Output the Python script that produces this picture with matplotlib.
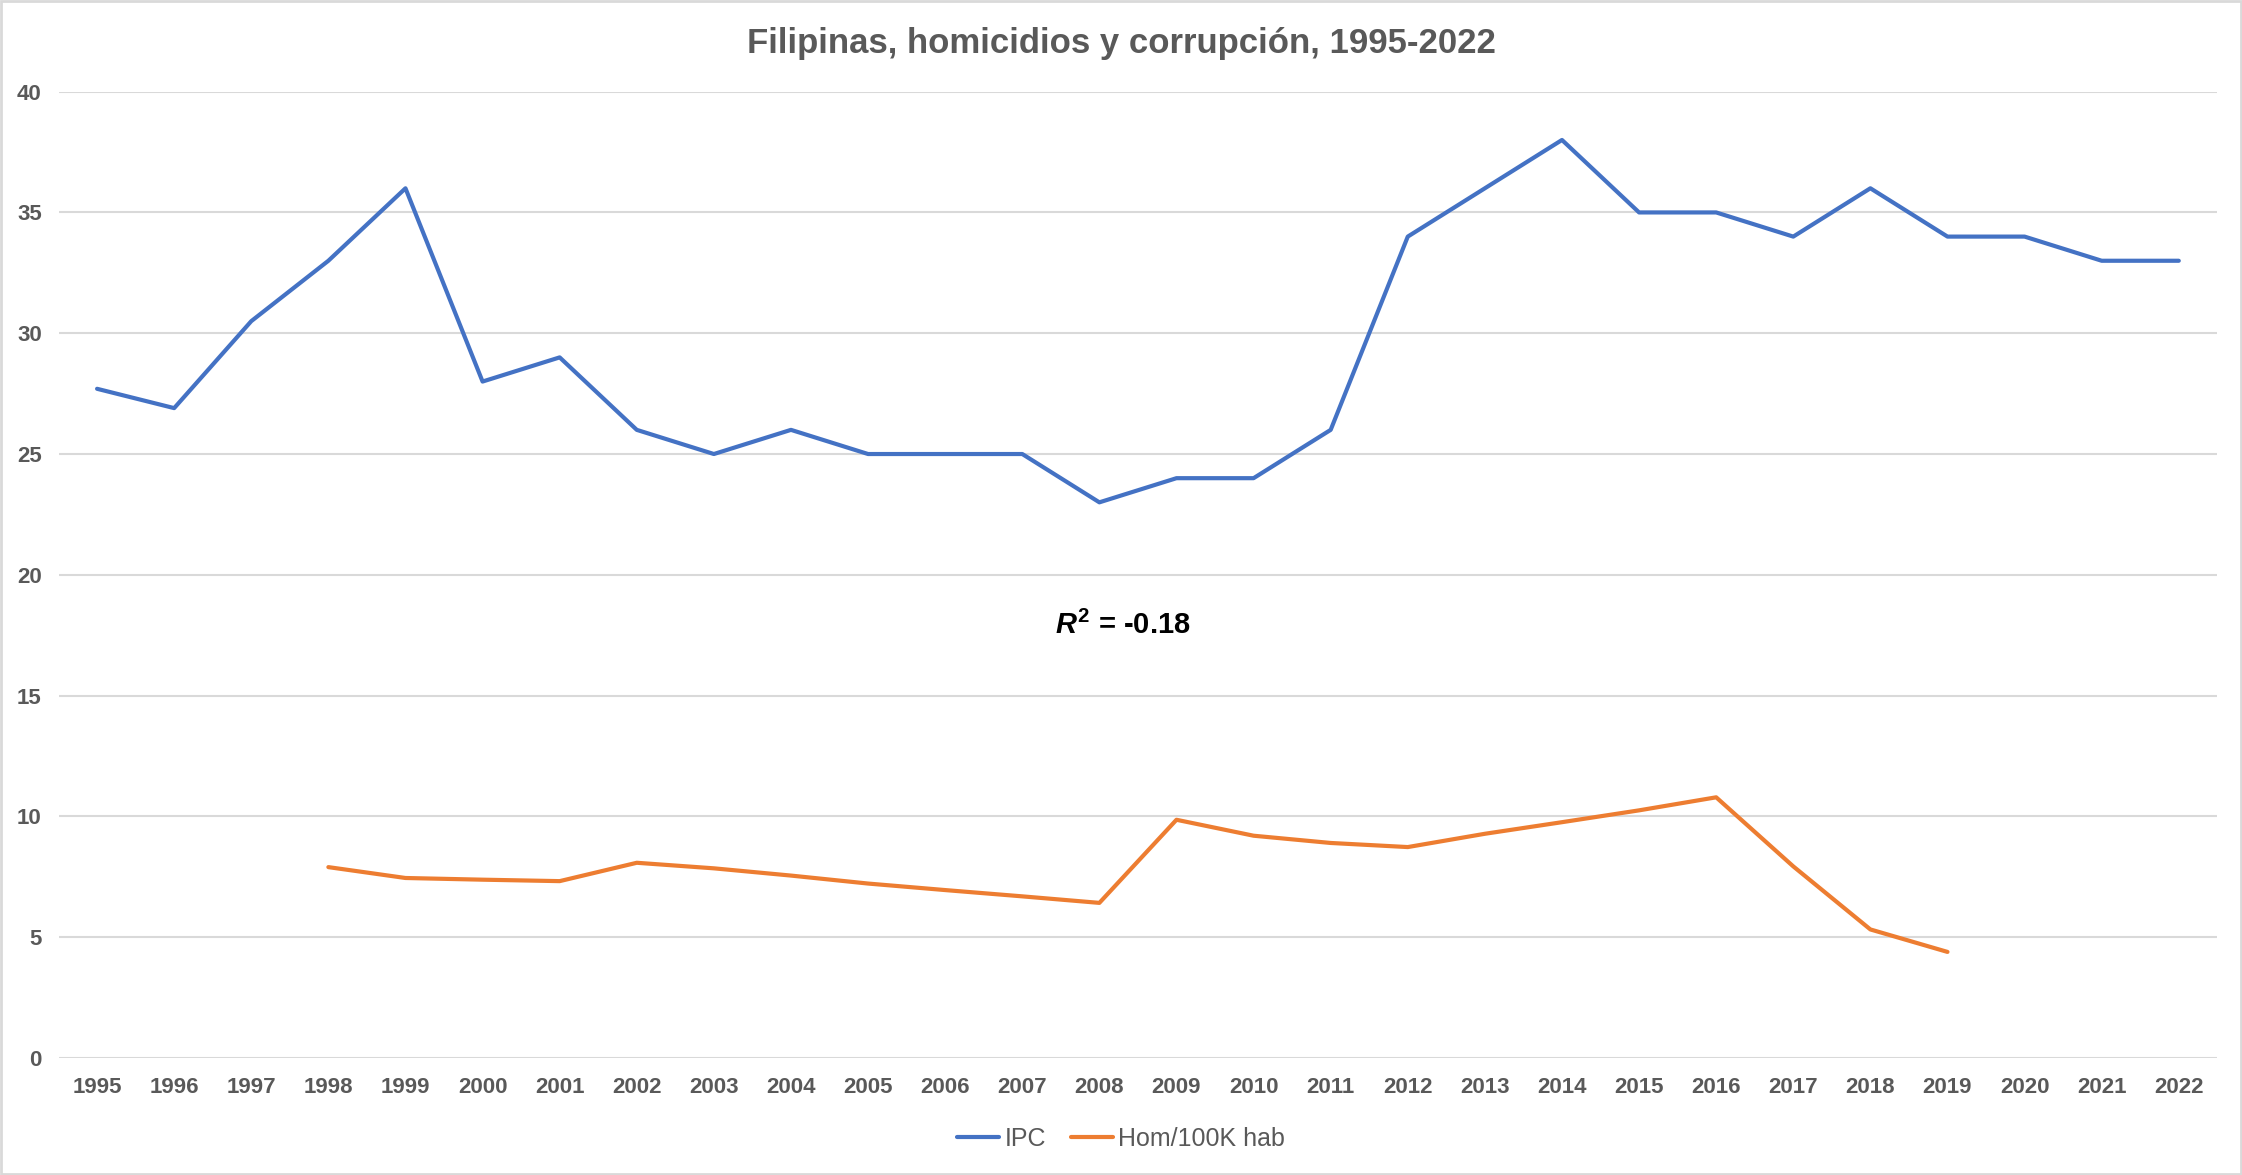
import numpy as np
import matplotlib.pyplot as plt
from matplotlib.patches import Rectangle

plt.rcParams['font.family'] = ['Liberation Sans', 'DejaVu Sans']
plt.rcParams['mathtext.fontset'] = 'custom'
plt.rcParams['mathtext.it'] = 'Liberation Sans:italic:bold'
plt.rcParams['mathtext.rm'] = 'Liberation Sans:bold'

years = list(range(1995, 2023))
ipc = [27.7, 26.9, 30.5, 33, 36, 28, 29, 26, 25, 26, 25, 25, 25, 23,
       24, 24, 26, 34, 36, 38, 35, 35, 34, 36, 34, 34, 33, 33]
hom_years = list(range(1998, 2020))
hom = [7.9, 7.45, 7.38, 7.32, 8.08, 7.85, 7.55, 7.22, 6.95, 6.69, 6.42,
       9.86, 9.2, 8.9, 8.73, 9.28, 9.76, 10.25, 10.79, 7.93, 5.32, 4.39]
r2_text = r'$R^2$ = -0.18'

gray = '#595959'
fig = plt.figure(figsize=(22.42, 11.75), dpi=100)
ax = fig.add_axes([0.0261, 0.0996, 0.9629, 0.8224])

x = np.arange(len(years))
xh = np.array([years.index(y) for y in hom_years])
ax.plot(x, ipc, color='#4472C4', lw=3, label='IPC', solid_capstyle='round')
ax.plot(xh, hom, color='#ED7D31', lw=3, label='Hom/100K hab', solid_capstyle='round')

ax.set_xlim(-0.5, len(years) - 0.5)
ax.set_ylim(0, 40)
ax.set_yticks(range(0, 41, 5))
ax.set_xticks(x)
ax.set_xticklabels([str(y) for y in years])
ax.grid(axis='y', color='#D9D9D9', lw=1.5)
ax.set_axisbelow(True)
for s in ax.spines.values():
    s.set_visible(False)
ax.tick_params(length=0, labelsize=16, labelcolor=gray)
ax.tick_params(axis='y', pad=12)
ax.tick_params(axis='x', pad=14)
for lab in ax.get_xticklabels() + ax.get_yticklabels():
    lab.set_fontweight('bold')

ax.text(13.3, 17.9, r2_text, fontsize=21, fontweight='bold', color='black',
        ha='center', va='center')

fig.text(0.5, 0.963, 'Filipinas, homicidios y corrupción, 1995-2022', ha='center',
         va='center', fontsize=25, fontweight='bold', color=gray)

fig.legend(loc='center', bbox_to_anchor=(0.5, 0.031), ncol=2, frameon=False,
           fontsize=18, labelcolor=gray, handlelength=1.7, handletextpad=0.2,
           columnspacing=1.0)

fig.patches.append(Rectangle((0.0005, 0.0008), 0.999, 0.9984, transform=fig.transFigure,
                             fill=False, edgecolor='#D9D9D9', lw=2))

fig.savefig('out.png', dpi=100)
